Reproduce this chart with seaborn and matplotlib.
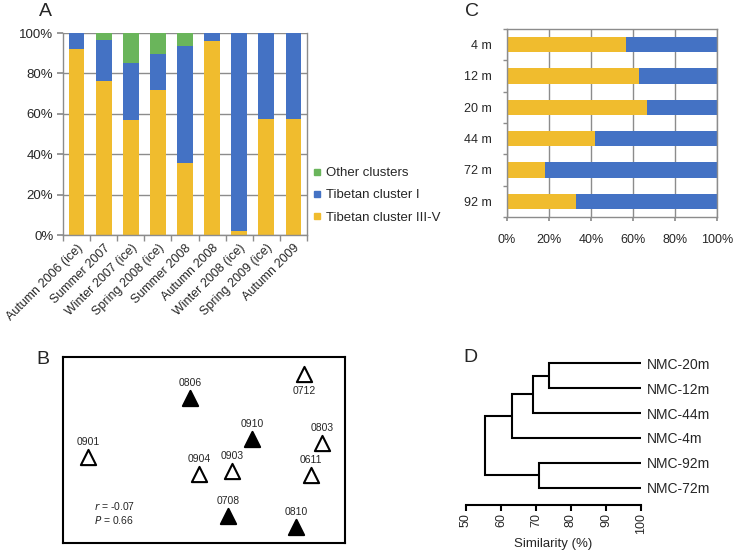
import numpy as np
import pandas as pd
import matplotlib
matplotlib.use("Agg")
import matplotlib.pyplot as plt
from matplotlib.lines import Line2D
import seaborn as sns

# -----------------------------
# Data
# -----------------------------
seasons = ["Autumn 2006 (ice)", "Summer 2007", "Winter 2007 (ice)", "Spring 2008 (ice)",
           "Summer 2008", "Autumn 2008", "Winter 2008 (ice)", "Spring 2009 (ice)", "Autumn 2009"]
tib_3_5 = [92, 76.4, 56.7, 72.0, 35.6, 96.0, 2.0, 57.2, 57.5]
tib_1 = [8, 20.0, 28.5, 17.6, 58.0, 4.0, 98.0, 42.8, 42.5]
other = [0, 3.6, 14.8, 10.4, 6.4, 0, 0, 0, 0]

depths = ["4 m", "12 m", "20 m", "44 m", "72 m", "92 m"]
depth_tib_3_5 = [56.7, 63.0, 66.7, 41.7, 17.9, 33.0]
depth_tib_1 = [43.3, 37.0, 33.3, 58.3, 82.1, 67.0]

samples = ["0712", "0806", "0910", "0803", "0901", "0904", "0903", "0611", "0708", "0810"]
mds_x = [85.5, 45.0, 67.0, 91.8, 8.9, 48.2, 59.9, 87.9, 58.5, 82.6]
mds_y = [90.9, 78.0, 55.9, 53.8, 46.2, 37.1, 38.7, 36.6, 14.5, 8.6]
filled = [False, True, True, False, False, False, False, False, True, True]

leaves = ["NMC-20m", "NMC-12m", "NMC-44m", "NMC-4m", "NMC-92m", "NMC-72m"]
# merges: (left, right, similarity)
merges = [("NMC-20m", "NMC-12m", 73.8),
          ("c1", "NMC-44m", 69.1),
          ("c2", "NMC-4m", 63.1),
          ("NMC-92m", "NMC-72m", 70.8),
          ("c3", "c4", 55.5)]

yellow = "#F0BC2E"
blue = "#4472C4"
green = "#6AB55B"
grid_gray = "#8C8C8C"

sns.set_theme(style="white")
plt.rcParams["font.family"] = ["Liberation Sans", "DejaVu Sans"]

fig = plt.figure(figsize=(7.33, 5.54), dpi=100)

# -----------------------------
# Panel A
# -----------------------------
axA = fig.add_axes([63/733, 1-235/554, 244/733, 202/554])
dfA = pd.DataFrame({"season": seasons, "y": tib_3_5, "b": tib_1, "g": other})
dfA["yb"] = dfA["y"] + dfA["b"]
dfA["ybg"] = dfA["yb"] + dfA["g"]
axA.set_axisbelow(True)
axA.yaxis.grid(True, color=grid_gray, lw=1)
for col, c in [("ybg", green), ("yb", blue), ("y", yellow)]:
    sns.barplot(data=dfA, x="season", y=col, color=c, saturation=1, width=0.58,
                linewidth=0, ax=axA)
axA.set_ylim(0, 100)
axA.set_xlim(-0.5, len(seasons) - 0.5)
axA.set_yticks(np.arange(0, 101, 20))
axA.set_yticklabels([f"{v}%" for v in range(0, 101, 20)], fontsize=9.5)
axA.set_xlabel("")
axA.set_ylabel("")
axA.set_xticks(range(len(seasons)))
axA.set_xticklabels(seasons, rotation=45, ha="right", rotation_mode="anchor", fontsize=9)
axA.set_xticks(np.arange(-0.5, len(seasons), 1), minor=True)
axA.tick_params(axis="x", which="major", length=0, pad=5)
axA.tick_params(axis="x", which="minor", length=4, color=grid_gray, direction="out", bottom=True)
axA.tick_params(axis="y", length=4, color=grid_gray, direction="out", left=True, pad=3)
for s in axA.spines.values():
    s.set_color(grid_gray)
    s.set_linewidth(1)
axA.spines["top"].set_visible(False)

handles = [Line2D([], [], marker="s", ls="", color=c, markersize=5)
           for c in [green, blue, yellow]]
fig.legend(handles, ["Other clusters", "Tibetan cluster I", "Tibetan cluster III-V"],
           loc="upper left", bbox_to_anchor=(313/733, 1-167/554), frameon=False,
           fontsize=9.5, handlelength=0.6, handletextpad=0.4, labelspacing=0.75,
           borderpad=0, borderaxespad=0)

# -----------------------------
# Panel C
# -----------------------------
axC = fig.add_axes([507/733, 1-217/554, 210/733, 188/554])
dfC = pd.DataFrame({"depth": depths, "y": depth_tib_3_5, "b": depth_tib_1})
dfC["yb"] = dfC["y"] + dfC["b"]
axC.set_axisbelow(True)
axC.xaxis.grid(True, color=grid_gray, lw=1)
for col, c in [("yb", blue), ("y", yellow)]:
    sns.barplot(data=dfC, y="depth", x=col, color=c, saturation=1, width=0.48,
                linewidth=0, orient="h", ax=axC)
axC.set_xlim(0, 100)
axC.set_ylim(len(depths) - 0.5, -0.5)
axC.set_xticks(np.arange(0, 101, 20))
axC.set_xticklabels([f"{v}%" for v in range(0, 101, 20)], fontsize=9)
axC.set_xlabel("")
axC.set_ylabel("")
axC.set_yticks(range(len(depths)))
axC.set_yticklabels(depths, fontsize=9)
axC.set_yticks(np.arange(-0.5, len(depths), 1), minor=True)
axC.tick_params(axis="y", which="major", length=0, pad=11)
axC.tick_params(axis="y", which="minor", length=3, color=grid_gray, direction="out", left=True)
axC.tick_params(axis="x", length=3, color=grid_gray, direction="out", bottom=True, pad=9)
for s in axC.spines.values():
    s.set_color(grid_gray)
    s.set_linewidth(1)

# -----------------------------
# Panel B
# -----------------------------
axB = fig.add_axes([63/733, 1-543/554, 282/733, 186/554])
dfB = pd.DataFrame({"sample": samples, "x": mds_x, "y": mds_y, "filled": filled})
sns.scatterplot(data=dfB[dfB["filled"]], x="x", y="y", marker="^", s=120,
                color="black", edgecolor="black", linewidth=1.5, ax=axB)
sns.scatterplot(data=dfB[~dfB["filled"]], x="x", y="y", marker="^", s=120,
                facecolor="white", edgecolor="black", linewidth=1.5, ax=axB)
for _, r in dfB.iterrows():
    off = -12 if r["sample"] == "0712" else 11
    axB.annotate(r["sample"], (r["x"], r["y"]), xytext=(0, off), textcoords="offset points",
                 ha="center", va="center", fontsize=7.5)
axB.text(11, 20, r"$r$ = -0.07", fontsize=7.5, va="center")
axB.text(11, 12.5, r"$P$ = 0.66", fontsize=7.5, va="center")
axB.set_xlim(0, 100)
axB.set_ylim(0, 100)
axB.set_xticks([])
axB.set_yticks([])
axB.set_xlabel("")
axB.set_ylabel("")
for s in axB.spines.values():
    s.set_color("black")
    s.set_linewidth(1.5)

# -----------------------------
# Panel D
# -----------------------------
axD = fig.add_axes([466/733, 1-505/554, 175/733, 154/554])
pos = {name: (100.0, i) for i, name in enumerate(leaves)}
for k, (a, b, h) in enumerate(merges, start=1):
    xa, ya = pos[a]
    xb, yb = pos[b]
    axD.plot([xa, h, h, xb], [ya, ya, yb, yb], color="black", lw=1.5, solid_joinstyle="miter")
    pos[f"c{k}"] = (h, (ya + yb) / 2)
axD.set_xlim(50, 100)
axD.set_ylim(len(leaves) - 0.3, -0.5)
axD.set_xticks(np.arange(50, 101, 10))
axD.set_xticklabels([str(v) for v in range(50, 101, 10)], rotation=90, fontsize=9)
axD.yaxis.tick_right()
axD.set_yticks(range(len(leaves)))
axD.set_yticklabels(leaves, fontsize=10)
axD.tick_params(axis="y", length=0, pad=4)
axD.tick_params(axis="x", length=4, width=1.5, color="black", direction="out", bottom=True, pad=2)
axD.set_xlabel("Similarity (%)", fontsize=9.5, labelpad=3)
for side in ["top", "right", "left"]:
    axD.spines[side].set_visible(False)
axD.spines["bottom"].set_color("black")
axD.spines["bottom"].set_linewidth(1.5)

# panel letters
for lab, x, y in [("A", 45, 11), ("C", 472, 11), ("B", 43, 359), ("D", 470, 358)]:
    fig.text(x/733, 1-y/554, lab, fontsize=14, ha="center", va="center")

plt.savefig("out.png", dpi=100)
